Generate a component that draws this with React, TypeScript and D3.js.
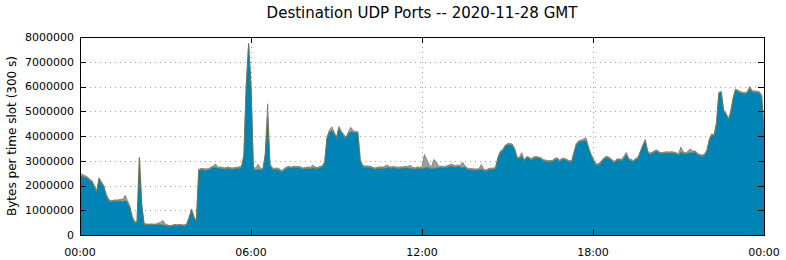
import React from 'react';
import * as d3 from 'd3';

const title = 'Destination UDP Ports -- 2020-11-28 GMT';
const yAxisLabel = 'Bytes per time slot (300 s)';
const xTickHours = [0, 6, 12, 18, 24];
const xTickLabels = ['00:00', '06:00', '12:00', '18:00', '00:00'];
const yTickValues = [0, 1000000, 2000000, 3000000, 4000000, 5000000, 6000000, 7000000, 8000000];

// 5 minute slots, millions of bytes, one row per hour (last row has the 24:00 point)
const mainRows = [
  [2.38, 2.37, 2.33, 2.3, 2.2, 2.15, 1.95, 1.72, 2.25, 2.1, 1.95, 1.6],
  [1.4, 1.33, 1.35, 1.37, 1.36, 1.38, 1.34, 1.4, 1.3, 1.1, 0.7, 0.5],
  [0.5, 3.1, 1.2, 0.42, 0.42, 0.4, 0.42, 0.41, 0.4, 0.42, 0.42, 0.4],
  [0.38, 0.36, 0.35, 0.37, 0.4, 0.38, 0.4, 0.38, 0.37, 0.42, 0.7, 1.0],
  [0.7, 0.55, 2.6, 2.64, 2.63, 2.62, 2.63, 2.68, 2.72, 2.75, 2.68, 2.7],
  [2.68, 2.66, 2.7, 2.68, 2.66, 2.67, 2.69, 2.7, 2.72, 3.2, 6.0, 7.7],
  [6.0, 2.7, 2.62, 2.65, 2.64, 2.62, 3.2, 4.7, 2.8, 2.66, 2.64, 2.66],
  [2.62, 2.55, 2.64, 2.7, 2.72, 2.7, 2.73, 2.72, 2.72, 2.7, 2.66, 2.68],
  [2.7, 2.68, 2.72, 2.7, 2.68, 2.72, 2.75, 2.9, 3.9, 4.15, 4.22, 4.1],
  [3.9, 4.3, 4.15, 4.02, 3.9, 4.1, 4.17, 4.15, 4.13, 4.12, 3.0, 2.76],
  [2.74, 2.74, 2.73, 2.7, 2.66, 2.68, 2.7, 2.7, 2.69, 2.71, 2.72, 2.7],
  [2.72, 2.7, 2.69, 2.7, 2.7, 2.72, 2.7, 2.7, 2.68, 2.66, 2.7, 2.69],
  [2.69, 2.7, 2.74, 2.7, 2.69, 2.7, 2.71, 2.72, 2.73, 2.72, 2.73, 2.75],
  [2.8, 2.76, 2.74, 2.77, 2.75, 2.72, 2.75, 2.66, 2.64, 2.63, 2.62, 2.62],
  [2.63, 2.67, 2.6, 2.58, 2.64, 2.65, 2.65, 2.7, 3.1, 3.33, 3.4, 3.58],
  [3.64, 3.65, 3.62, 3.45, 3.1, 3.08, 3.2, 2.98, 3.12, 3.1, 3.03, 3.1],
  [3.12, 3.1, 3.08, 3.0, 2.98, 2.95, 2.96, 2.97, 3.05, 3.07, 2.97, 3.05],
  [3.05, 3.0, 2.96, 2.95, 3.3, 3.65, 3.76, 3.78, 3.8, 3.82, 3.55, 3.25],
  [3.05, 2.85, 2.82, 2.88, 3.0, 3.1, 3.13, 3.08, 3.0, 2.92, 3.02, 3.03],
  [3.0, 3.1, 3.25, 3.05, 3.0, 2.96, 3.05, 3.1, 3.35, 3.6, 3.8, 3.35],
  [3.25, 3.3, 3.35, 3.38, 3.3, 3.28, 3.3, 3.31, 3.3, 3.32, 3.3, 3.28],
  [3.22, 3.35, 3.3, 3.27, 3.3, 3.33, 3.32, 3.35, 3.25, 3.2, 3.18, 3.22],
  [3.4, 3.84, 4.04, 4.0, 4.5, 5.72, 5.75, 5.0, 4.88, 4.65, 4.95, 5.5],
  [5.85, 5.8, 5.75, 5.72, 5.7, 5.75, 5.92, 5.78, 5.77, 5.76, 5.74, 5.6, 4.3],
];

const otherRows = [
  [0.08, 0.08, 0.07, 0.06, 0.06, 0.05, 0.05, 0.05, 0.06, 0.05, 0.05, 0.05],
  [0.05, 0.05, 0.05, 0.05, 0.05, 0.06, 0.1, 0.2, 0.08, 0.05, 0.05, 0.04],
  [0.04, 0.04, 0.04, 0.03, 0.03, 0.03, 0.03, 0.03, 0.04, 0.06, 0.1, 0.18],
  [0.05, 0.04, 0.03, 0.03, 0.03, 0.03, 0.03, 0.03, 0.04, 0.04, 0.05, 0.05],
  [0.04, 0.04, 0.05, 0.05, 0.05, 0.05, 0.05, 0.05, 0.06, 0.12, 0.06, 0.05],
  [0.05, 0.05, 0.05, 0.05, 0.05, 0.05, 0.05, 0.05, 0.05, 0.05, 0.08, 0.05],
  [0.06, 0.05, 0.08, 0.2, 0.06, 0.05, 0.1, 0.6, 0.08, 0.05, 0.05, 0.05],
  [0.05, 0.05, 0.05, 0.05, 0.05, 0.05, 0.05, 0.05, 0.05, 0.05, 0.05, 0.05],
  [0.05, 0.06, 0.1, 0.05, 0.05, 0.05, 0.05, 0.05, 0.06, 0.08, 0.15, 0.06],
  [0.05, 0.08, 0.05, 0.05, 0.05, 0.06, 0.18, 0.06, 0.05, 0.05, 0.05, 0.05],
  [0.05, 0.05, 0.05, 0.05, 0.05, 0.05, 0.05, 0.05, 0.06, 0.12, 0.06, 0.05],
  [0.05, 0.05, 0.05, 0.05, 0.05, 0.05, 0.06, 0.12, 0.06, 0.05, 0.05, 0.05],
  [0.05, 0.55, 0.3, 0.15, 0.05, 0.35, 0.25, 0.06, 0.05, 0.05, 0.05, 0.06],
  [0.06, 0.08, 0.06, 0.06, 0.05, 0.22, 0.06, 0.05, 0.05, 0.05, 0.05, 0.05],
  [0.05, 0.18, 0.06, 0.05, 0.05, 0.05, 0.05, 0.05, 0.05, 0.06, 0.05, 0.05],
  [0.05, 0.05, 0.05, 0.05, 0.05, 0.06, 0.12, 0.05, 0.05, 0.05, 0.05, 0.05],
  [0.05, 0.05, 0.05, 0.05, 0.05, 0.05, 0.05, 0.05, 0.05, 0.05, 0.05, 0.05],
  [0.05, 0.05, 0.05, 0.05, 0.06, 0.05, 0.05, 0.05, 0.08, 0.1, 0.05, 0.05],
  [0.05, 0.05, 0.05, 0.05, 0.05, 0.05, 0.05, 0.05, 0.05, 0.05, 0.05, 0.05],
  [0.05, 0.08, 0.08, 0.05, 0.05, 0.05, 0.05, 0.05, 0.05, 0.05, 0.06, 0.05],
  [0.05, 0.05, 0.06, 0.05, 0.05, 0.05, 0.05, 0.05, 0.05, 0.05, 0.05, 0.05],
  [0.05, 0.2, 0.06, 0.05, 0.08, 0.15, 0.06, 0.05, 0.05, 0.05, 0.05, 0.05],
  [0.05, 0.05, 0.05, 0.05, 0.05, 0.05, 0.05, 0.05, 0.05, 0.05, 0.05, 0.05],
  [0.05, 0.05, 0.05, 0.05, 0.05, 0.05, 0.08, 0.05, 0.05, 0.05, 0.05, 0.05, 0.05],
];

const mainSeries = mainRows.flat();
const otherSeries = otherRows.flat();

const W = 786;
const H = 260;
const margin = { top: 37, right: 22, bottom: 25, left: 80 };
const font = '"DejaVu Sans", Verdana, sans-serif';

export default function App() {
  const x = d3.scaleLinear().domain([0, 24]).range([margin.left, W - margin.right]);
  const y = d3.scaleLinear().domain([0, 8000000]).range([H - margin.bottom, margin.top]);

  const rows = mainSeries.map((v, i) => ({
    hour: (i * 5) / 60,
    main: v * 1e6,
    other: otherSeries[i] * 1e6,
  }));
  const stacked = d3.stack<any>().keys(['main', 'other'])(rows);

  const area = d3
    .area<any>()
    .x((d) => x(d.data.hour))
    .y0((d) => y(d[0]))
    .y1((d) => y(d[1]));
  const topLine = d3
    .line<any>()
    .x((d) => x(d.data.hour))
    .y((d) => y(d[1]));

  const x0 = x(0);
  const x1 = x(24);
  const yb = y(0);
  const yt = y(8000000);

  return (
    <svg
      width={W}
      height={H}
      style={{ position: 'absolute', left: 0, top: 0, background: '#fff' }}
      fontFamily={font}
    >
      {/* grid */}
      {yTickValues.slice(1, -1).map((v) => (
        <line key={'gy' + v} x1={x0} x2={x1} y1={Math.round(y(v)) + 0.5} y2={Math.round(y(v)) + 0.5}
          stroke="#a0a0a0" strokeDasharray="1,4" />
      ))}
      {xTickHours.slice(1, -1).map((h) => (
        <line key={'gx' + h} y1={yt} y2={yb} x1={Math.round(x(h)) + 0.5} x2={Math.round(x(h)) + 0.5}
          stroke="#a0a0a0" strokeDasharray="1,4" />
      ))}

      {/* stacked areas */}
      <path d={area(stacked[1] as any) || ''} fill="#a0a0a0" />
      <path d={topLine(stacked[1] as any) || ''} fill="none" stroke="#707070" strokeWidth={0.8} />
      <path d={area(stacked[0] as any) || ''} fill="#0083b5" />
      <path d={topLine(stacked[0] as any) || ''} fill="none" stroke="#6b7440" strokeWidth={0.8} />

      {/* border */}
      <rect x={x0 + 0.5} y={yt + 0.5} width={x1 - x0} height={yb - yt} fill="none" stroke="#000" />

      {/* y ticks */}
      {yTickValues.map((v) => (
        <g key={'ty' + v}>
          <line x1={x0} x2={x0 + 6} y1={Math.round(y(v)) + 0.5} y2={Math.round(y(v)) + 0.5} stroke="#000" />
          <line x1={x1 - 6} x2={x1} y1={Math.round(y(v)) + 0.5} y2={Math.round(y(v)) + 0.5} stroke="#000" />
          <text x={x0 - 6} y={y(v)} dy="0.35em" textAnchor="end" fontSize={11} fill="#000">
            {v}
          </text>
        </g>
      ))}

      {/* x ticks */}
      {xTickHours.map((h, i) => (
        <g key={'tx' + i}>
          <line x1={Math.round(x(h)) + 0.5} x2={Math.round(x(h)) + 0.5} y1={yt} y2={yt + 6} stroke="#000" />
          <line x1={Math.round(x(h)) + 0.5} x2={Math.round(x(h)) + 0.5} y1={yb - 6} y2={yb} stroke="#000" />
          <text x={x(h)} y={yb + 21} textAnchor="middle" fontSize={11} fill="#000">
            {xTickLabels[i]}
          </text>
        </g>
      ))}

      <text x={(x0 + x1) / 2} y={18} textAnchor="middle" fontSize={15} fill="#000">
        {title}
      </text>
      <text
        transform={`translate(16,${(yt + yb) / 2}) rotate(-90)`}
        textAnchor="middle"
        fontSize={12}
        fill="#000"
      >
        {yAxisLabel}
      </text>
    </svg>
  );
}
